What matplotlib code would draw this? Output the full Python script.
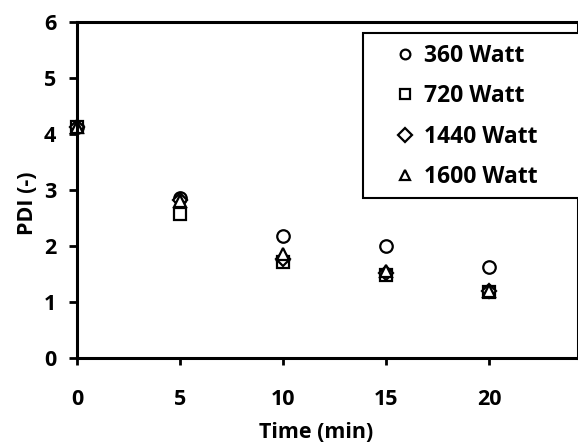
import matplotlib
matplotlib.use("Agg")
import matplotlib.pyplot as plt
from matplotlib.patches import Rectangle

plt.rcParams['font.family'] = ['Open Sans', 'DejaVu Sans']
plt.rcParams['font.weight'] = 'bold'

time_min = [0, 5, 10, 15, 20]
pdi_360 = [4.13, 2.86, 2.18, 2.00, 1.63]
pdi_720 = [4.13, 2.57, 1.72, 1.48, 1.17]
pdi_1440 = [4.13, 2.82, 1.77, 1.52, 1.19]
pdi_1600 = [4.13, 2.80, 1.86, 1.55, 1.20]
labels = ['360 Watt', '720 Watt', '1440 Watt', '1600 Watt']
markers = ['o', 's', 'D', '^']
sizes = [9, 9, 7, 9]

fig = plt.figure(figsize=(5.78, 4.46), dpi=100)
ax = fig.add_axes([0.1332, 0.1973, 0.8668, 0.7534])

for ys, lab, m, s in zip([pdi_360, pdi_720, pdi_1440, pdi_1600], labels, markers, sizes):
    ax.plot(time_min, ys, linestyle='none', marker=m, markersize=s,
            markerfacecolor='white', markeredgecolor='black', markeredgewidth=1.6,
            label=lab, clip_on=False)

ax.set_xlim(0, 24.3)
ax.set_ylim(0, 6)
ax.set_xticks([0, 5, 10, 15, 20])
ax.set_yticks(range(0, 7))
for sp in ax.spines.values():
    sp.set_linewidth(2.2)
ax.tick_params(axis='y', direction='out', length=6, width=2, pad=9, labelsize=15.5)
ax.tick_params(axis='x', direction='out', length=5, width=2, pad=17, labelsize=15.5)

ax.set_xlabel('Time (min)', fontsize=15.5, fontweight='bold')
ax.xaxis.set_label_coords(0.477, -0.19)
ax.set_ylabel('PDI (-)', fontsize=15.5, fontweight='bold')
ax.yaxis.set_label_coords(-0.078, 0.461)

# legend frame drawn separately so the entries can sit inset to the right
ax.add_patch(Rectangle((0.571, 0.476), 0.44, 0.491, transform=ax.transAxes,
                       facecolor='white', edgecolor='black', linewidth=1.5,
                       clip_on=False, zorder=4))
leg = ax.legend(loc='upper left', bbox_to_anchor=(0.628, 0.955), frameon=False,
                fontsize=16.5, handlelength=0.6, handletextpad=0.5,
                labelspacing=0.72, borderpad=0.3, borderaxespad=0)
leg.set_zorder(5)
for h in leg.legend_handles:
    h.set_markersize(7)

fig.savefig('out.png', dpi=100)
